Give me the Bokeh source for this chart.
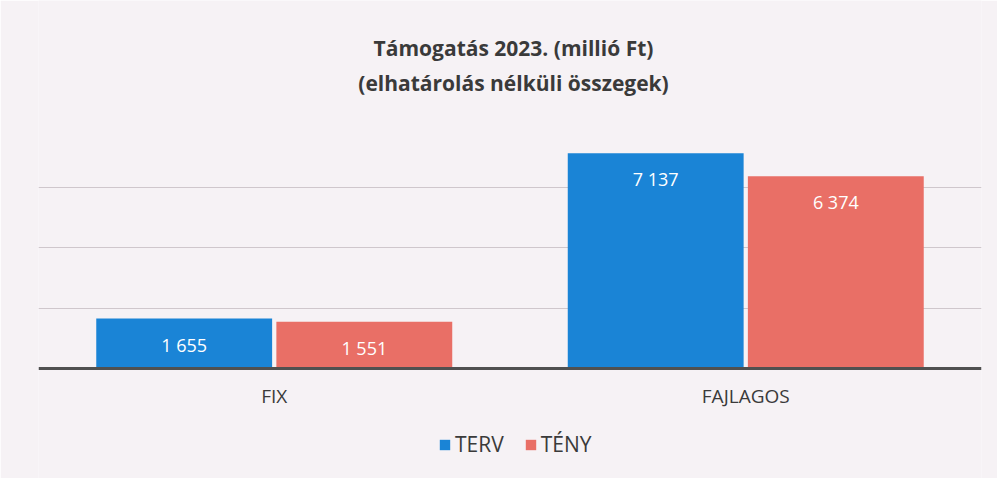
from bokeh.plotting import figure
from bokeh.models import (ColumnDataSource, FactorRange, FixedTicker, LabelSet,
                          Label, Legend, LegendItem, Span)
from bokeh.transform import dodge
from bokeh.core.properties import value
from bokeh.embed import file_html
from bokeh.resources import INLINE

categories = ["FIX", "FAJLAGOS"]
terv = [1655, 7137]
teny = [1551, 6374]
terv_labels = ["1 655", "7 137"]
teny_labels = ["1 551", "6 374"]
grid_ticks = [2000, 4000, 6000]
title_line1 = "Támogatás 2023. (millió Ft)"
title_line2 = "(elhatárolás nélküli összegek)"
series_names = ["TERV", "TÉNY"]

BLUE = "#1a84d6"
RED = "#e96f66"
BG = "#f6f2f5"
FONT = "Open Sans"
TXT = "#3a3a3a"

W, H = 997, 478
LEFT, RIGHT = 38, 16
BASE_FROM_BOTTOM = 110          # pixels from the canvas bottom to the zero line
PX_PER_UNIT = 60.3 / 2000       # vertical scale
y_start = -BASE_FROM_BOTTOM / PX_PER_UNIT
y_end = (H - BASE_FROM_BOTTOM) / PX_PER_UNIT

src = ColumnDataSource(dict(cat=categories, terv=terv, teny=teny,
                            terv_lab=terv_labels, teny_lab=teny_labels,
                            zero=[0] * len(categories)))

p = figure(width=W, height=H, x_range=FactorRange(*categories, range_padding=0),
           y_range=(y_start, y_end), output_backend="svg", toolbar_location=None,
           min_border_left=LEFT, min_border_right=RIGHT, min_border_top=0,
           min_border_bottom=0)
p.background_fill_color = BG
p.border_fill_color = BG
p.outline_line_color = None
p.xaxis.visible = False
p.yaxis.visible = False
p.xgrid.grid_line_color = None
p.ygrid.ticker = FixedTicker(ticks=grid_ticks)
p.ygrid.grid_line_color = "#cfc7cc"
p.ygrid.grid_line_width = 1

r1 = p.vbar(x=dodge("cat", -0.191, range=p.x_range), top="terv", width=0.373,
            source=src, fill_color=BLUE, line_color=None)
r2 = p.vbar(x=dodge("cat", 0.191, range=p.x_range), top="teny", width=0.373,
            source=src, fill_color=RED, line_color=None)

p.add_layout(Span(location=0, dimension="width", line_color="#505050", line_width=3))

for xoff, col in [(-0.191, "terv_lab"), (0.191, "teny_lab")]:
    p.add_layout(LabelSet(x=dodge("cat", xoff, range=p.x_range), y=col.split("_")[0],
                          text=col, source=src, y_offset=-26,
                          text_align="center", text_baseline="middle",
                          text_color="white", text_font=value(FONT),
                          text_font_size="18px"))

# category labels under the zero line
p.add_layout(LabelSet(x="cat", y="zero", text="cat", source=src, y_offset=-27,
                      text_align="center", text_baseline="middle",
                      text_color=TXT, text_font=value(FONT),
                      text_font_size="19px"))

for txt, yy in [(title_line1, H - 47), (title_line2, H - 82)]:
    p.add_layout(Label(x=513 - LEFT, y=yy, x_units="screen", y_units="screen",
                       text=txt, text_align="center", text_baseline="middle",
                       text_font=FONT, text_font_style="bold",
                       text_font_size="21px", text_color=TXT))

legend = Legend(items=[LegendItem(label=series_names[0], renderers=[r1]),
                       LegendItem(label=series_names[1], renderers=[r2])],
                orientation="horizontal", location=(400, 20),
                background_fill_alpha=0, border_line_color=None,
                label_text_font=FONT, label_text_font_size="21px",
                label_text_color=TXT, glyph_width=13, glyph_height=13,
                label_standoff=4, spacing=20, padding=0, margin=0)
p.add_layout(legend, "center")

open("out.html", "w").write(file_html(p, INLINE))
